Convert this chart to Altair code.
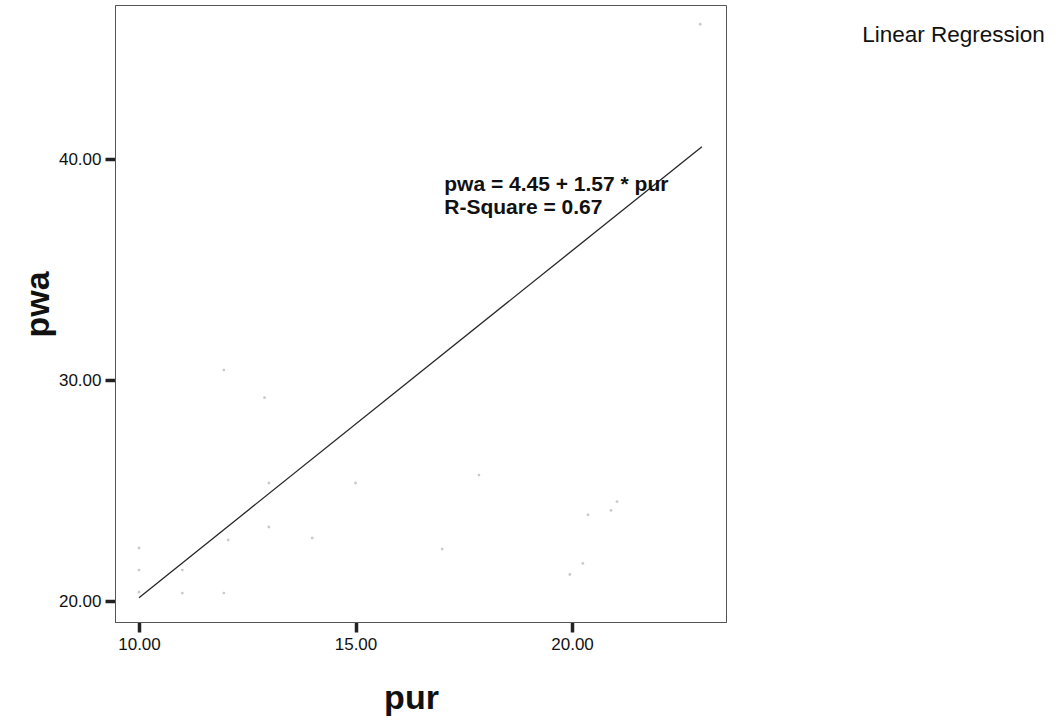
import altair as alt
import pandas as pd

pur_vals = [10, 10, 10, 11.0, 11.0, 11.96, 12.06, 11.96, 12.9, 13.0, 13.0, 14.0,
            15.0, 17.0, 17.85, 19.95, 20.25, 20.37, 20.9, 21.04, 22.96]
pwa_vals = [22.4, 21.4, 20.4, 21.4, 20.36, 20.36, 22.76, 30.45, 29.2, 25.34, 23.35, 22.85,
            25.34, 22.35, 25.7, 21.2, 21.7, 23.9, 24.1, 24.5, 46.1]

# fitted regression line endpoints: pwa = 4.45 + 1.57 * pur
line_pur = [10.0, 23.0]
line_pwa = [20.15, 40.56]

# annotation
ann_text = ["pwa = 4.45 + 1.57 * pur", "R-Square = 0.67"]
ann_pur = [17.05, 17.05]
ann_pwa = [38.55, 37.5]

legend_text = ["Linear Regression"]
legend_pur = [26.7]
legend_pwa = [45.28]

x_ticks = [10, 15, 20]
y_ticks = [20, 30, 40]
x_domain = [9.446, 23.556]
y_domain = [19.05, 46.97]

FONT = "Liberation Sans, Arial, sans-serif"

pts = pd.DataFrame({"pur": pur_vals, "pwa": pwa_vals})
ln = pd.DataFrame({"pur": line_pur, "pwa": line_pwa})
ann = pd.DataFrame({"pur": ann_pur, "pwa": ann_pwa, "t": ann_text})
leg = pd.DataFrame({"pur": legend_pur, "pwa": legend_pwa, "t": legend_text})

xs = alt.Scale(domain=x_domain, nice=False, zero=False)
ys = alt.Scale(domain=y_domain, nice=False, zero=False)

x_axis = alt.Axis(values=x_ticks, format=".2f", title="pur", grid=False,
                  titleX=296, titleY=86, titleBaseline="alphabetic", titleAlign="center")
y_axis = alt.Axis(values=y_ticks, format=".2f", title="pwa", grid=False,
                  titleX=-67, titleY=299, titleBaseline="alphabetic", titleAlign="center",
                  titleAngle=270)

X = alt.X("pur:Q", scale=xs, axis=x_axis)
Y = alt.Y("pwa:Q", scale=ys, axis=y_axis)

points = alt.Chart(pts).mark_point(filled=True, size=8, color="#bdbdbd", opacity=0.8).encode(x=X, y=Y)
line = alt.Chart(ln).mark_line(color="#262626", strokeWidth=1.3).encode(x=X, y=Y)
txt = alt.Chart(ann).mark_text(align="left", baseline="alphabetic", font=FONT,
                               fontWeight="bold", fontSize=21, color="#111").encode(x=X, y=Y, text="t:N")
legtxt = alt.Chart(leg).mark_text(align="left", baseline="alphabetic", font=FONT,
                                  fontSize=22.5, color="#111", clip=False).encode(x=X, y=Y, text="t:N")

chart = alt.layer(points, line, txt, legtxt).properties(
    width=611, height=617,
    autosize=alt.AutoSizeParams(type="none"),
    padding={"left": 115, "top": 5, "right": 338, "bottom": 103},
    background="white",
).configure_view(stroke="#555555", strokeWidth=1).configure_axis(
    domainColor="#555555", domainWidth=1,
    tickColor="#222222", tickWidth=3.5, tickSize=10,
    labelFont=FONT, labelFontSize=17, labelColor="#111", labelPadding=4,
    titleFont=FONT, titleFontSize=34, titleFontWeight="bold", titleColor="#111",
)

chart.save("out.html", embed_options={"renderer": "svg", "actions": False})
